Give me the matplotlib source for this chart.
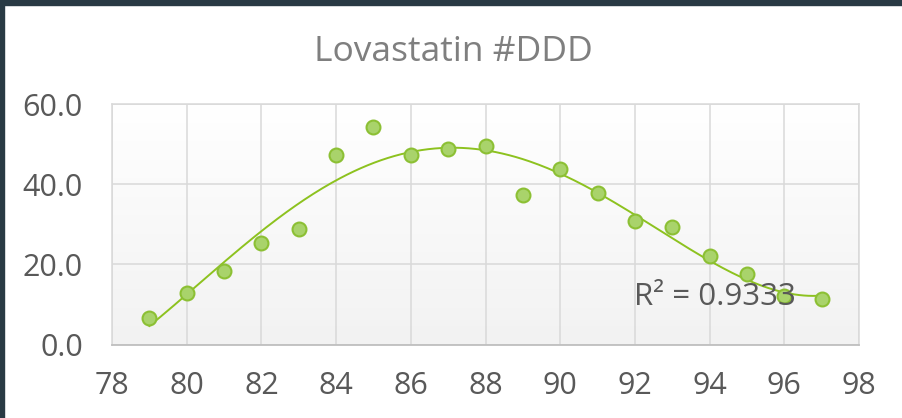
import numpy as np
import matplotlib
matplotlib.use("Agg")
import matplotlib.pyplot as plt
from matplotlib.patches import Rectangle

# data
years = [79, 80, 81, 82, 83, 84, 85, 86, 87, 88, 89, 90, 91, 92, 93, 94, 95, 96, 97]
values = [6.6, 12.8, 18.3, 25.3, 28.8, 47.2, 54.3, 47.3, 48.7, 49.5, 37.4,
          43.8, 37.8, 30.8, 29.3, 22.1, 17.6, 12.2, 11.4]
x_ticks = [78, 80, 82, 84, 86, 88, 90, 92, 94, 96, 98]
y_ticks = [0, 20, 40, 60]
title = "Lovastatin #DDD"
r2_label = "R² = 0.9333"
trend_degree = 4  # poly order, gives R^2 ~0.933 like the label

plt.rcParams['font.family'] = ['Open Sans', 'DejaVu Sans']

fig = plt.figure(figsize=(9.02, 4.18), dpi=100)
fig.patch.set_facecolor("white")
ax = fig.add_axes([112 / 902, 1 - 344.7 / 418, (859 - 112) / 902, (344.7 - 104) / 418])

# gradient plot area
grad = np.linspace(1.0, 0.0, 256).reshape(-1, 1)
ax.imshow(grad, extent=[0, 1, 0, 1], transform=ax.transAxes, aspect="auto",
          cmap=matplotlib.colors.LinearSegmentedColormap.from_list("bg", ["#f2f2f2", "#ffffff"]),
          zorder=0)

ax.set_xlim(78, 98)
ax.set_ylim(0, 60)
ax.set_xticks(x_ticks)
ax.set_yticks(y_ticks)
ax.set_yticklabels(["%.1f" % v for v in y_ticks])
ax.grid(True, color="#d9d9d9", linewidth=1.1, zorder=1)
ax.set_axisbelow(True)
for side in ["top", "right", "left"]:
    ax.spines[side].set_color("#d9d9d9")
    ax.spines[side].set_linewidth(1.1)
ax.spines["bottom"].set_color("#bfbfbf")
ax.spines["bottom"].set_linewidth(1.3)
ax.tick_params(length=0, labelsize=22, labelcolor="#595959")
ax.tick_params(axis="y", pad=21)
ax.tick_params(axis="x", pad=19)

# polynomial trendline
x = np.array(years, dtype=float)
y = np.array(values)
coef = np.polyfit(x, y, trend_degree)
xs = np.linspace(x.min(), x.max(), 300)
ax.plot(xs, np.polyval(coef, xs), color="#8dc21f", linewidth=1.4, zorder=3)

ax.plot(years, values, linestyle="none", marker="o", markersize=10,
        markerfacecolor="#a9d36b", markeredgecolor="#8cc034", markeredgewidth=1.5, zorder=4)

ax.text(91.98, 11.9, r2_label, fontsize=22.5, color="#595959", va="center", ha="left", zorder=5)

fig.text(0.503, 1 - 61 / 418, title, fontsize=25.5, color="#7f7f7f", ha="center", va="baseline")

# dark frame on top and left edge
fig.patches.append(Rectangle((0, 1 - 5 / 418), 1, 5 / 418, transform=fig.transFigure,
                             color="#293a44", zorder=10))
fig.patches.append(Rectangle((0, 0), 4 / 902, 1, transform=fig.transFigure,
                             color="#293a44", zorder=10))

fig.savefig("out.png", dpi=100)
